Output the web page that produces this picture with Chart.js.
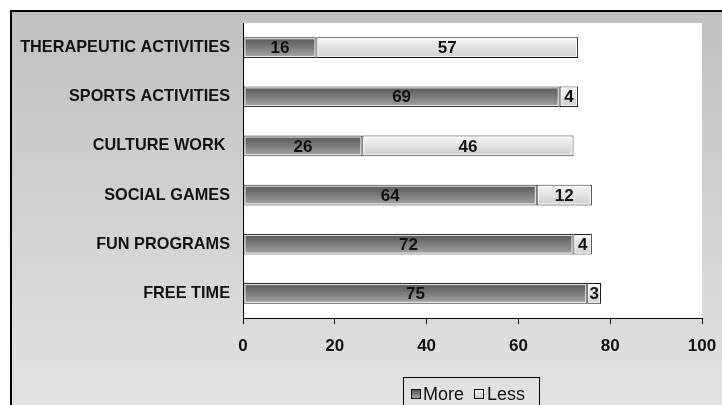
<!DOCTYPE html>
<html>
<head>
<meta charset="utf-8">
<script src="https://cdn.jsdelivr.net/npm/chart.js@4.4.1/dist/chart.umd.min.js"></script>
<style>
html,body{margin:0;padding:0;background:#fff;}
#wrap{width:722px;height:405px;position:relative;}
</style>
</head>
<body>
<div id="wrap"><canvas id="c" width="722" height="405"></canvas></div>
<script>
const categories = ["THERAPEUTIC ACTIVITIES", "SPORTS ACTIVITIES", "CULTURE WORK ", "SOCIAL GAMES", "FUN PROGRAMS", "FREE TIME"];
const moreValues = [16, 69, 26, 64, 72, 75];
const lessValues = [57, 4, 46, 12, 4, 3];
const seriesNames = ["More", "Less"];
const xTicks = [0, 20, 40, 60, 80, 100];

const FONT = '"Liberation Sans", Arial, sans-serif';
const moreStops = [[0, '#555555'], [0.5, '#7c7c7c'], [1, '#a6a6a6']];
const lessStops = [[0, '#f6f6f6'], [1, '#cdcdcd']];

function barGradient(ctx, top, bottom, stops) {
  const g = ctx.createLinearGradient(0, top, 0, bottom);
  stops.forEach(s => g.addColorStop(s[0], s[1]));
  return g;
}

const bgPlugin = {
  id: 'bg',
  beforeDraw(chart) {
    const ctx = chart.ctx;
    ctx.save();
    ctx.fillStyle = '#ffffff';
    ctx.fillRect(0, 0, chart.width, chart.height);
    const g = ctx.createLinearGradient(0, 11, 0, 405);
    g.addColorStop(0, '#c0c0c0');
    g.addColorStop(1, '#e2e2e2');
    ctx.fillStyle = g;
    ctx.fillRect(10, 11, chart.width - 10, chart.height - 11);
    ctx.strokeStyle = '#000';
    ctx.lineWidth = 2;
    ctx.beginPath();
    ctx.moveTo(11, chart.height + 2);
    ctx.lineTo(11, 11);
    ctx.lineTo(chart.width + 2, 11);
    ctx.stroke();
    const a = chart.chartArea;
    ctx.fillStyle = '#ffffff';
    ctx.fillRect(a.left, a.top, a.right - a.left, a.bottom - a.top);
    ctx.restore();
  },
  beforeDatasetsDraw(chart) {
    const ctx = chart.ctx;
    chart.data.datasets.forEach((ds, di) => {
      const meta = chart.getDatasetMeta(di);
      const stops = di === 0 ? moreStops : lessStops;
      meta.data.forEach(el => {
        const y0 = el.y - el.height / 2, y1 = el.y + el.height / 2;
        el.options = Object.assign({}, el.options, {backgroundColor: barGradient(ctx, y0, y1, stops)});
      });
    });
  },
  afterDatasetsDraw(chart) {
    const ctx = chart.ctx;
    ctx.save();
    chart.data.datasets.forEach((ds, di) => {
      const meta = chart.getDatasetMeta(di);
      meta.data.forEach((el, i) => {
        const x0 = Math.min(el.base, el.x), x1 = Math.max(el.base, el.x);
        const y0 = el.y - el.height / 2, y1 = el.y + el.height / 2;
        ctx.strokeStyle = 'rgba(255,255,255,0.85)';
        ctx.lineWidth = 1;
        ctx.strokeRect(x0 + 1.5, y0 + 1.5, x1 - x0 - 3, y1 - y0 - 3);
        ctx.fillStyle = '#111';
        ctx.font = 'bold 17px ' + FONT;
        ctx.textAlign = 'center';
        ctx.textBaseline = 'middle';
        ctx.fillText(String(ds.data[i]), (x0 + x1) / 2, el.y + 1);
      });
    });
    ctx.restore();
  },
  afterDraw(chart) {
    const ctx = chart.ctx;
    ctx.save();
    const lx = 403.5, ly = 377.5, lw = 136, lh = 40;
    ctx.strokeStyle = '#000';
    ctx.lineWidth = 1;
    ctx.strokeRect(lx, ly, lw, lh);
    ctx.font = '18px ' + FONT;
    ctx.textBaseline = 'middle';
    ctx.textAlign = 'left';
    const items = [
      {name: seriesNames[0], stops: moreStops, x: 411, tx: 423},
      {name: seriesNames[1], stops: lessStops, x: 474, tx: 487}
    ];
    items.forEach(it => {
      const bx = it.x + 0.5, by = 389.5, bs = 9;
      ctx.fillStyle = barGradient(ctx, by, by + bs, it.stops);
      ctx.fillRect(bx, by, bs, bs);
      ctx.strokeStyle = '#111';
      ctx.strokeRect(bx, by, bs, bs);
      ctx.fillStyle = '#111';
      ctx.fillText(it.name, it.tx, 395);
    });
    ctx.restore();
  }
};

new Chart(document.getElementById('c'), {
  type: 'bar',
  data: {
    labels: categories,
    datasets: [
      {
        label: seriesNames[0],
        data: moreValues,
        backgroundColor: '#7c7c7c',
        borderColor: '#2a2a2a',
        borderWidth: 1,
        borderSkipped: false,
        categoryPercentage: 1,
        barPercentage: 0.42
      },
      {
        label: seriesNames[1],
        data: lessValues,
        backgroundColor: '#e6e6e6',
        borderColor: '#111',
        borderWidth: 1,
        borderSkipped: false,
        categoryPercentage: 1,
        barPercentage: 0.42
      }
    ]
  },
  options: {
    indexAxis: 'y',
    responsive: false,
    animation: false,
    devicePixelRatio: 1,
    layout: {padding: {left: 0, top: 23, right: 20, bottom: 0}},
    plugins: {legend: {display: false}, tooltip: {enabled: false}},
    scales: {
      x: {
        stacked: true,
        min: 0,
        max: 100,
        afterBuildTicks(scale) { scale.ticks = xTicks.map(v => ({value: v})); },
        afterFit(scale) { scale.height = 87; scale.paddingRight = 0; scale.paddingLeft = 0; },
        grid: {drawOnChartArea: false, drawTicks: true, tickLength: 6, color: '#000', tickColor: '#000'},
        border: {display: true, color: '#000', width: 1},
        ticks: {
          color: '#111',
          padding: 12,
          maxRotation: 0,
          font: {family: FONT, size: 17, weight: 'bold'}
        }
      },
      y: {
        stacked: true,
        afterFit(scale) { scale.width = 243; scale.paddingTop = 0; scale.paddingBottom = 0; },
        grid: {display: false, drawTicks: false},
        border: {display: true, color: '#000', width: 1},
        ticks: {
          color: '#111',
          padding: 13,
          font: {family: FONT, size: 16.3, weight: 'bold'}
        }
      }
    }
  },
  plugins: [bgPlugin]
});
</script>
</body>
</html>
